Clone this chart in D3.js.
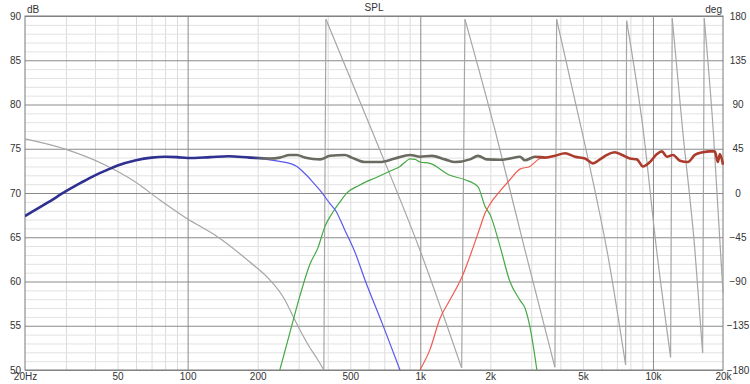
<!DOCTYPE html>
<html>
<head>
<meta charset="utf-8">
<script src="https://cdn.jsdelivr.net/npm/d3@7"></script>
<style>
  html, body { margin: 0; padding: 0; background: #fff; }
  svg { display: block; }
  text { font-family: "Liberation Sans", Arial, sans-serif; font-size: 10px; fill: #333; }
</style>
</head>
<body>
<svg id="chart" width="750" height="384"></svg>
<script>
// ---------- data ----------
const freqTicks = [20, 50, 100, 200, 500, 1000, 2000, 5000, 10000, 20000];
const freqTickLabels = ["20Hz", "50", "100", "200", "500", "1k", "2k", "5k", "10k", "20k"];
const freqMajorGrid = [100, 1000, 10000];
const freqMinorGrid = [30, 40, 50, 60, 70, 80, 90, 200, 300, 400, 500, 600, 700, 800, 900,
  2000, 3000, 4000, 5000, 6000, 7000, 8000, 9000];
const dbTicks = [50, 55, 60, 65, 70, 75, 80, 85, 90];
const degTicks = [-180, -135, -90, -45, 0, 45, 90, 135, 180];

// total (summed) response [Hz, dB]
const totalFreq = [20, 25, 30, 35, 40, 45, 50, 60, 70, 80, 90, 100, 125, 150, 185, 226, 249, 275, 295, 319, 346, 371, 409,
  474, 508, 578, 671, 778, 903, 996, 1122, 1277, 1410, 1634, 1770, 1934, 2200, 2427, 2680, 2818, 3111, 3435, 3793,
  4188, 4624, 5106, 5522, 5917, 6341, 6859, 7360, 7961, 8531, 9055, 9703, 10397, 10920, 11478, 12185, 13059, 14131,
  15142, 16388, 17563, 18446, 19006, 19403, 20000];
const totalDb = [67.4, 68.9, 70.2, 71.2, 72.0, 72.6, 73.1, 73.7, 74.0, 74.1, 74.05, 73.95, 74.05, 74.15, 74.0, 73.9, 74.0, 74.3, 74.3, 74.0, 73.85, 73.8, 74.2,
  74.3, 74.0, 73.5, 73.5, 73.9, 74.3, 74.1, 74.2, 73.8, 73.5, 73.8, 74.2, 73.8, 73.75, 73.9, 74.1, 73.7, 74.1, 74.0, 74.2,
  74.5, 74.1, 73.9, 73.35, 73.8, 74.3, 74.6, 74.3, 73.9, 73.8, 73.0, 73.5, 74.4, 74.7, 74.1, 74.3, 73.65, 73.5,
  74.3, 74.6, 74.7, 74.7, 73.5, 74.4, 73.2];

// woofer (blue)
const wooferFreq = [20, 25, 30, 35, 40, 45, 50, 60, 70, 80, 100, 150, 191, 237, 275, 295, 319, 346, 371, 409, 433, 474, 524, 578, 690, 818];
const wooferDb = [67.4, 68.9, 70.2, 71.2, 72.0, 72.6, 73.1, 73.7, 74.0, 74.1, 73.95, 74.15, 74.0, 73.65, 73.35, 73.0, 72.2, 71.2, 70.3, 68.8, 68.0, 65.8, 63.3, 60.2, 55.1, 50];

// midrange (green)
const midFreq = [249, 275, 304, 336, 363, 389, 420, 452, 480, 499, 540, 578, 640, 705, 760, 818, 870, 903, 950, 996, 1100,
  1340, 1556, 1770, 1897, 2000, 2200, 2427, 2680, 2818, 2958, 3170];
const midDb = [50, 54.2, 58.4, 62.0, 63.8, 66.2, 67.8, 69.0, 69.9, 70.3, 70.8, 71.2, 71.7, 72.2, 72.6, 73.0, 73.6, 73.85, 73.8, 73.5, 73.35,
  72.0, 71.5, 70.7, 68.5, 67.5, 64.0, 60.0, 57.9, 57.0, 54.9, 50];

// tweeter (red)
const tweetFreq = [996, 1100, 1214, 1340, 1510, 1684, 1800, 1897, 2000, 2200, 2427, 2680, 2958, 3267, 3435];
const tweetDb = [50, 52.3, 55.8, 57.9, 60.5, 63.8, 66.0, 67.7, 68.8, 70.2, 71.5, 72.7, 73.0, 73.9, 74.0];

// phase (gray, wrapped) [Hz, deg]
const phaseFreq = [20, 30, 44.2, 59.4, 76, 100, 131, 185, 226, 262, 282, 304, 336, 363, 385,
  393, 618, 996, 1506,
  1556, 2094, 2552, 2817, 3790,
  3854, 4936, 5742, 6340, 7628,
  7703, 9080, 10368, 11908,
  12098, 13414, 15142, 16348,
  16610, 18154, 20000];
const phaseDeg = [55, 44.4, 28.5, 11.5, -7.1, -26.4, -42.7, -70.2, -88.5, -108.8, -124.1, -139.3, -157.6, -169.8, -180,
  176.6, 64.1, -58, -178,
  176.6, 64.1, -17.3, -58, -177.3,
  176.6, 64.1, -7.1, -58, -174.9,
  175.2, 64.1, -58, -167.1,
  177.7, 64.1, -58, -162.4,
  177.7, 64.1, -101.7];

// ---------- layout ----------
const svg = d3.select("#chart");
const L = 25, R = 723, T = 16, B = 370;

const x = d3.scaleLog().domain([20, 20000]).range([L, R]);
const y = d3.scaleLinear().domain([50, 90]).range([B, T]);
const yDeg = d3.scaleLinear().domain([-180, 180]).range([B, T]);

const zip = (a, b) => a.map((v, i) => [v, b[i]]);

// minor grid
const minorDb = d3.range(51, 90).filter(d => d % 5 !== 0);
svg.append("g").attr("transform", `translate(0,${B})`)
  .call(d3.axisBottom(x).tickValues(freqMinorGrid).tickSize(-(B - T)).tickFormat(""))
  .call(g => g.select(".domain").remove())
  .call(g => g.selectAll("line").attr("stroke", "#dcdcdc").attr("stroke-width", 1));
svg.append("g").attr("transform", `translate(${L},0)`)
  .call(d3.axisLeft(y).tickValues(minorDb).tickSize(-(R - L)).tickFormat(""))
  .call(g => g.select(".domain").remove())
  .call(g => g.selectAll("line").attr("stroke", "#e2e2e2").attr("stroke-width", 1));

// major grid
svg.append("g").attr("transform", `translate(0,${B})`)
  .call(d3.axisBottom(x).tickValues(freqMajorGrid).tickSize(-(B - T)).tickFormat(""))
  .call(g => g.select(".domain").remove())
  .call(g => g.selectAll("line").attr("stroke", "#8a8a8a").attr("stroke-width", 1));
svg.append("g").attr("transform", `translate(${L},0)`)
  .call(d3.axisLeft(y).tickValues(dbTicks).tickSize(-(R - L)).tickFormat(""))
  .call(g => g.select(".domain").remove())
  .call(g => g.selectAll("line").attr("stroke", "#8a8a8a").attr("stroke-width", 1));

// frame
svg.append("rect").attr("x", L).attr("y", T).attr("width", R - L).attr("height", B - T)
  .attr("fill", "none").attr("stroke", "#7a7a7a").attr("stroke-width", 1);

// axis labels
const bottomAxis = svg.append("g").attr("transform", `translate(0,${B})`)
  .call(d3.axisBottom(x).tickValues(freqTicks).tickSize(0).tickPadding(3)
    .tickFormat((d, i) => freqTickLabels[i]));
bottomAxis.select(".domain").remove();
bottomAxis.selectAll("text").attr("fill", "#333").style("font-size", "10px")
  .style("font-family", "Liberation Sans, Arial, sans-serif");

const leftAxis = svg.append("g").attr("transform", `translate(${L},0)`)
  .call(d3.axisLeft(y).tickValues(dbTicks).tickSize(0).tickPadding(4));
leftAxis.select(".domain").remove();
leftAxis.selectAll("text").attr("fill", "#333").style("font-size", "10px")
  .style("font-family", "Liberation Sans, Arial, sans-serif");

const rightAxis = svg.append("g").attr("transform", `translate(${R},0)`)
  .call(d3.axisRight(yDeg).tickValues(degTicks).tickSize(0).tickPadding(15));
rightAxis.select(".domain").remove();
rightAxis.selectAll("text").attr("fill", "#333").attr("text-anchor", "middle")
  .style("font-size", "10px").style("font-family", "Liberation Sans, Arial, sans-serif");

svg.append("text").attr("x", (L + R) / 2).attr("y", 11).attr("text-anchor", "middle").text("SPL");
svg.append("text").attr("x", L + 2).attr("y", 13).text("dB");
svg.append("text").attr("x", R - 1).attr("y", 13).attr("text-anchor", "end").text("deg");

// clip
svg.append("clipPath").attr("id", "plotclip").append("rect")
  .attr("x", L).attr("y", T - 2).attr("width", R - L + 1).attr("height", B - T + 2);

const plot = svg.append("g").attr("clip-path", "url(#plotclip)");

// gradient for the thick summed line
const gx1 = x(150), gx2 = x(4000);
const off = f => (x(f) - gx1) / (gx2 - gx1);
const grad = svg.append("defs").append("linearGradient").attr("id", "sumgrad")
  .attr("gradientUnits", "userSpaceOnUse").attr("x1", gx1).attr("x2", gx2).attr("y1", 0).attr("y2", 0);
[[150, "#2f3190"], [190, "#2f3190"], [215, "#6a6a60"], [3000, "#6a6a60"], [3350, "#ac3b2c"], [4000, "#ac3b2c"]]
  .forEach(([f, c]) => grad.append("stop").attr("offset", off(f)).attr("stop-color", c));

const lineDb = d3.line().x(d => x(d[0])).y(d => y(d[1])).curve(d3.curveMonotoneX);
const lineDegSmooth = d3.line().x(d => x(d[0])).y(d => yDeg(d[1])).curve(d3.curveMonotoneX);
const lineDegLin = d3.line().x(d => x(d[0])).y(d => yDeg(d[1]));

// phase: split into wrapped segments (smooth within a segment, straight jump between)
const phasePts = zip(phaseFreq, phaseDeg);
const segs = [[phasePts[0]]];
for (let i = 1; i < phasePts.length; i++) {
  if (phasePts[i][1] - phasePts[i - 1][1] > 180) segs.push([]);
  segs[segs.length - 1].push(phasePts[i]);
}
const phaseG = plot.append("g").attr("fill", "none").attr("stroke", "#a6a6a6").attr("stroke-width", 1.2);
segs.forEach((s, i) => {
  phaseG.append("path").datum(s).attr("d", lineDegSmooth);
  if (i > 0) phaseG.append("path").datum([segs[i - 1][segs[i - 1].length - 1], s[0]]).attr("d", lineDegLin);
});

plot.append("path").datum(zip(midFreq, midDb)).attr("d", lineDb)
  .attr("fill", "none").attr("stroke", "#45a845").attr("stroke-width", 1.2);
plot.append("path").datum(zip(tweetFreq, tweetDb)).attr("d", lineDb)
  .attr("fill", "none").attr("stroke", "#f05a50").attr("stroke-width", 1.2);
plot.append("path").datum(zip(wooferFreq, wooferDb)).attr("d", lineDb)
  .attr("fill", "none").attr("stroke", "#5858ec").attr("stroke-width", 1.2);
plot.append("path").datum(zip(totalFreq, totalDb)).attr("d", lineDb)
  .attr("fill", "none").attr("stroke", "url(#sumgrad)").attr("stroke-width", 2.6)
  .attr("stroke-linejoin", "round");
</script>
</body>
</html>
